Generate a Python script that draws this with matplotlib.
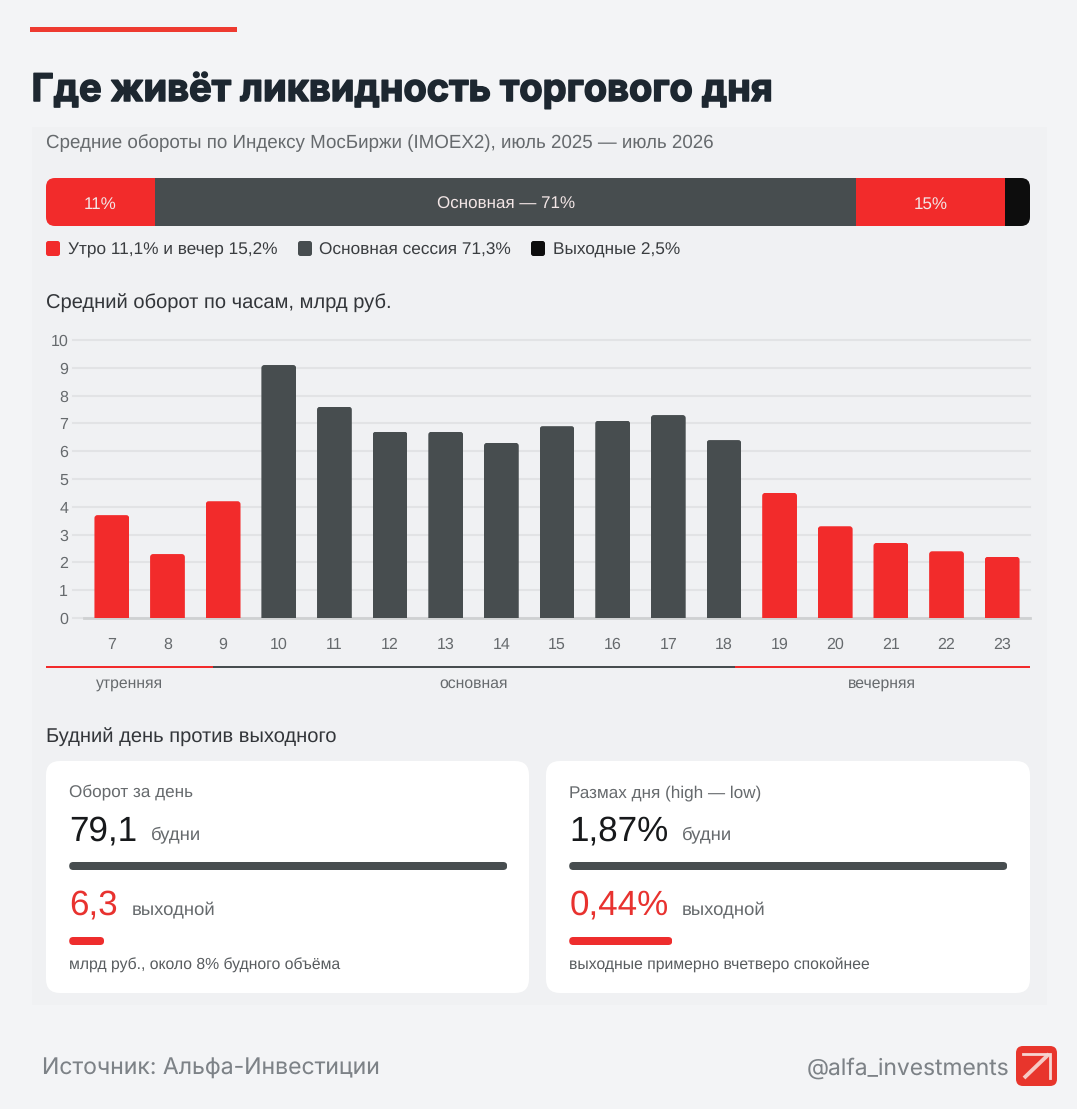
import matplotlib
matplotlib.use("Agg")
import matplotlib.pyplot as plt
import matplotlib.patheffects as pe
from matplotlib.patches import FancyBboxPatch, Rectangle

plt.rcParams["text.hinting"] = "none"

W, H = 1077, 1109
PAGE = "#f3f4f6"; PANEL = "#f0f1f3"; RED = "#f22b2b"; DARK = "#474d4f"; BLACK = "#0d0d0d"
SANS = "Liberation Sans"; INTER = "Inter"

# ---- data ----
title = "Где живёт ликвидность торгового дня"
subtitle = "Средние обороты по Индексу МосБиржи (IMOEX2), июль 2025 — июль 2026"
share_values = [11.1, 71.3, 15.2, 2.5]
share_labels = ["11%", "Основная — 71%", "15%", ""]
legend_labels = ["Утро 11,1% и вечер 15,2%", "Основная сессия 71,3%", "Выходные 2,5%"]
hours = [7, 8, 9, 10, 11, 12, 13, 14, 15, 16, 17, 18, 19, 20, 21, 22, 23]
turnover = [3.7, 2.3, 4.2, 9.1, 7.6, 6.7, 6.7, 6.3, 6.9, 7.1, 7.3, 6.4, 4.5, 3.3, 2.7, 2.4, 2.2]
morning_hours = [7, 8, 9]
evening_hours = [19, 20, 21, 22, 23]
session_names = ["утренняя", "основная", "вечерняя"]
card_titles = ["Оборот за день", "Размах дня (high — low)"]
card_weekday = [79.1, 1.87]
card_weekend = [6.3, 0.44]
card_weekday_text = ["79,1", "1,87%"]
card_weekend_text = ["6,3", "0,44%"]
card_notes = ["млрд руб., около 8% будного объёма", "выходные примерно вчетверо спокойнее"]

fig = plt.figure(figsize=(W / 100, H / 100), dpi=100, facecolor=PAGE)

def px_axes(x0, y0, x1, y1, **kw):
    return fig.add_axes([x0 / W, 1 - y1 / H, (x1 - x0) / W, (y1 - y0) / H], **kw)

bg = px_axes(0, 0, W, H)
bg.set_xlim(0, W); bg.set_ylim(H, 0); bg.axis("off")

def txt(x, y, s, size, color, family=SANS, weight="normal", ha="left"):
    return bg.text(x, y, s, fontsize=size * 0.72, color=color, family=family,
                   weight=weight, ha=ha, va="baseline", zorder=10)

def rbox(x0, y0, x1, y1, r, color, z=1):
    p = FancyBboxPatch((x0, y0), x1 - x0, y1 - y0, boxstyle=f"round,pad=0,rounding_size={r}",
                       fc=color, ec="none", zorder=z)
    bg.add_patch(p)
    return p

# page header
bg.add_patch(Rectangle((30, 26.5), 207, 5.5, fc="#ee3a30", ec="none"))
t = txt(31.5, 101, title, 38, "#1d2730", INTER, "bold")
t.set_path_effects([pe.withStroke(linewidth=1.1, foreground="#1d2730")])
bg.add_patch(Rectangle((32, 127), W - 32 - 30, 878, fc=PANEL, ec="none", zorder=0))
txt(46, 148, subtitle, 18.75, "#666a6d")

# share bar
ax_s = px_axes(46, 178, 1030, 226)
ax_s.set_xlim(0, sum(share_values)); ax_s.set_ylim(0, 1); ax_s.axis("off")
clip = FancyBboxPatch((46, 178), 984, 48, boxstyle="round,pad=0,rounding_size=9",
                      transform=bg.transData, fc="none", ec="none")
fig.add_artist(clip); clip.set_visible(False)
left = 0
for v, lab, c in zip(share_values, share_labels, [RED, DARK, RED, BLACK]):
    b = ax_s.barh(0.5, v, left=left, height=1, color=c, linewidth=0)[0]
    b.set_clip_path(clip)
    if lab:
        ax_s.text(left + v / 2, 0.49, lab, ha="center", va="center_baseline", color="#f3e6e6",
                  fontsize=17 * 0.72, family=SANS)
    left += v

# legend
for x, tx, lab, c in zip([46, 298, 531], [68, 319, 553], legend_labels, [RED, DARK, BLACK]):
    rbox(x, 241, x + 14, 256, 2.5, c, 3)
    txt(tx, 254.8, lab, 17.3, "#3a3d40")

txt(46, 308.5, "Средний оборот по часам, млрд руб.", 20.15, "#33363a")

# hourly chart
ax = px_axes(73, 340, 1030, 618)
step = 55.6
ax.set_xlim(6.5 - 11 / step, 23.5); ax.set_ylim(0, 10)
ax.patch.set_alpha(0)
for s in ax.spines.values():
    s.set_visible(False)
ax.set_yticks(range(0, 11))
ax.set_xticks(hours)
ax.tick_params(length=0, labelcolor="#666a6d", labelsize=16 * 0.72)
ax.tick_params(axis="x", pad=14)
ax.tick_params(axis="y", pad=3.5)
for l in ax.get_xticklabels() + ax.get_yticklabels():
    l.set_family(SANS)
ax.grid(axis="y", color="#e2e3e5", lw=1.5, clip_on=False); ax.set_axisbelow(True)
ax.axhline(0, xmin=11 / 957, color="#cfd1d2", lw=2, zorder=1, clip_on=False)
for h, v in zip(hours, turnover):
    c = RED if h in morning_hours or h in evening_hours else DARK
    bw = 0.625
    b = ax.bar(h, v, width=bw, color=c, linewidth=0, zorder=3)[0]
    cp = FancyBboxPatch((h - bw / 2, -1), bw, v + 1, boxstyle=f"round,pad=0,rounding_size={3 / step}",
                        mutation_aspect=step / 27.8, transform=ax.transData, fc="none", ec="none")
    ax.add_patch(cp); cp.set_visible(False)
    b.set_clip_path(cp)

# session strip
for x0, x1, c in [(46, 213, RED), (213, 735, DARK), (735, 1030, RED)]:
    bg.add_patch(Rectangle((x0, 665.8), x1 - x0, 2.6, fc=c, ec="none", zorder=2))
for x, s in zip([130, 474, 882], session_names):
    txt(x, 688, s, 15.7, "#666a6d", ha="center")

txt(46, 742.7, "Будний день против выходного", 20.15, "#33363a")

# cards
for i, (x0, x1) in enumerate([(46, 529), (546, 1030)]):
    rbox(x0, 761, x1, 993, 14, "white", 1)
    tx = x0 + 23.2
    txt(tx, 840.5, card_weekday_text[i], 35, "#17191b")
    txt(tx + (82 if i == 0 else 113), 839.5, "будни", 18.5, "#666a6d")
    txt(tx, 914.5, card_weekend_text[i], 35, "#e8322f")
    txt(tx + (62.5 if i == 0 else 113), 914.5, "выходной", 18.5, "#666a6d")
    txt(tx, 797, card_titles[i], 17.1, "#666a6d")
    txt(tx, 969.5, card_notes[i], 15.75, "#585c5f")
    for y, v, c in zip((862, 937), [card_weekday[i], card_weekend[i]], [DARK, "#ee2d2d"]):
        a = px_axes(tx, y, tx + 438, y + 8)
        a.set_xlim(0, card_weekday[i]); a.set_ylim(0, 1); a.axis("off")
        b = a.barh(0.5, v, height=1, color=c, linewidth=0)[0]
        cp = FancyBboxPatch((tx, y), 438 * v / card_weekday[i], 8, boxstyle="round,pad=0,rounding_size=4",
                            transform=bg.transData, fc="none", ec="none")
        bg.add_patch(cp); cp.set_visible(False)
        b.set_clip_path(cp)

# footer
txt(42, 1074.5, "Источник: Альфа-Инвестиции", 23, "#7d8287", INTER)
txt(1009, 1074.5, "@alfa_investments", 22.8, "#7d8287", INTER, ha="right")
rbox(1016, 1046, 1057, 1086, 7, "#e8352c", 3)
bg.plot([1024, 1049], [1078, 1054], color="#f6c9c4", lw=2.8, zorder=4, solid_capstyle="butt")
bg.plot([1023, 1050, 1050], [1054, 1054, 1078], color="#f6d5d1", lw=2, zorder=4, solid_joinstyle="miter")

fig.savefig("out.png", dpi=100, facecolor=PAGE)
